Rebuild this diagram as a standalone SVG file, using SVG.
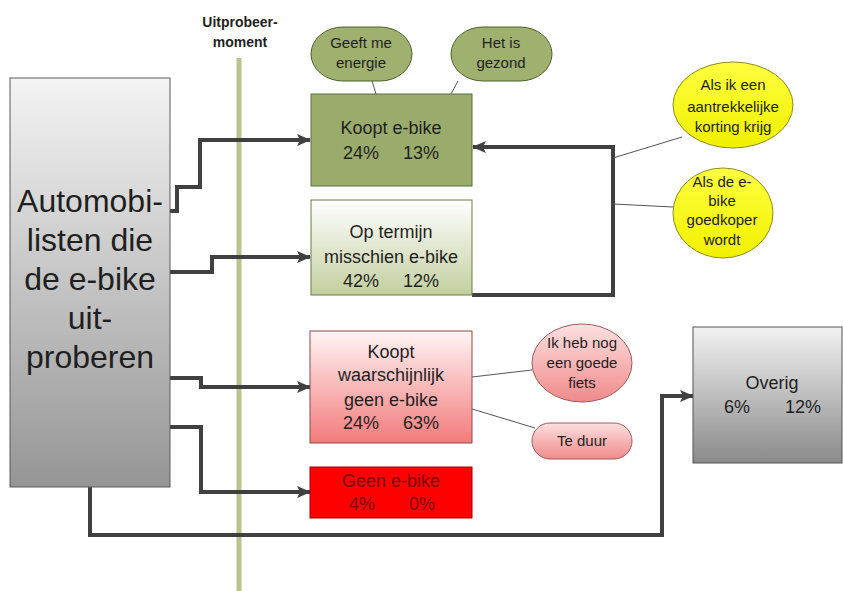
<svg xmlns="http://www.w3.org/2000/svg" width="843" height="591" viewBox="0 0 843 591">
<style>
text{font-family:"Liberation Sans",Arial,sans-serif;fill:#1f1f1f;text-anchor:middle}
.big{font-size:32px}
.box{font-size:18px}
.call{font-size:15px}
.conn{fill:none;stroke:#404040;stroke-width:4;marker-end:url(#arr)}
.lead{stroke:#555;stroke-width:1;fill:none}
.title{font-size:14px;font-weight:bold}
</style>
<defs>
<marker id="arr" viewBox="0 0 14 12" refX="13" refY="6" markerWidth="14" markerHeight="12" markerUnits="userSpaceOnUse" orient="auto">
<path d="M0,0 L14,6 L0,12 L3,6 Z" fill="#404040"/>
</marker>
<linearGradient id="gGrey" x1="0" y1="0" x2="0" y2="1"><stop offset="0" stop-color="#f4f4f4"/><stop offset="1" stop-color="#959595"/></linearGradient>
<linearGradient id="gOverig" x1="0" y1="0" x2="0" y2="1"><stop offset="0" stop-color="#f2f2f2"/><stop offset="1" stop-color="#8a8a8a"/></linearGradient>
<linearGradient id="gLightGreen" x1="0" y1="0" x2="0" y2="1"><stop offset="0" stop-color="#ffffff"/><stop offset="1" stop-color="#c3cf9f"/></linearGradient>
<linearGradient id="gPink" x1="0" y1="0" x2="0" y2="1"><stop offset="0" stop-color="#fff4f4"/><stop offset="1" stop-color="#f37b7b"/></linearGradient>
<linearGradient id="gPinkCall" x1="0" y1="0" x2="0" y2="1"><stop offset="0" stop-color="#fde0e0"/><stop offset="1" stop-color="#f08a8a"/></linearGradient>
<linearGradient id="gYellow" x1="0" y1="0" x2="0" y2="1"><stop offset="0" stop-color="#ffff40"/><stop offset="1" stop-color="#f0f000"/></linearGradient>
</defs>

<g id="timeline">
<line x1="239" y1="58" x2="239" y2="591" stroke="#b8c48e" stroke-width="5"/>
<text class="title" x="240" y="27">Uitprobeer-</text>
<text class="title" x="240" y="47">moment</text>
</g>

<g id="connectors">
<path class="conn" d="M170,211 H177 V187 H200 V140 H310"/>
<path class="conn" d="M170,272 H212 V257 H310"/>
<path class="conn" d="M170,378 H201 V387 H310"/>
<path class="conn" d="M170,427 H201 V492 H310"/>
<path class="conn" d="M90,487 V535 H662 V396 H693"/>
<path class="conn" d="M472,295 H613 V147 H473"/>
<line class="lead" x1="372" y1="81" x2="376" y2="94"/>
<line class="lead" x1="458" y1="81" x2="451" y2="94"/>
<line class="lead" x1="682" y1="137" x2="613" y2="158"/>
<line class="lead" x1="673" y1="207" x2="613" y2="204"/>
<line class="lead" x1="472" y1="377" x2="532" y2="370"/>
<line class="lead" x1="472" y1="409" x2="535" y2="428"/>
</g>

<g id="source">
<rect x="10" y="78" width="160" height="409" fill="url(#gGrey)" stroke="#5a5a5a" stroke-width="1"/>
<text class="big" x="90" y="212">Automobi-</text>
<text class="big" x="90" y="251">listen die</text>
<text class="big" x="90" y="290">de e-bike</text>
<text class="big" x="90" y="329">uit-</text>
<text class="big" x="90" y="368">proberen</text>
</g>

<g id="koopt">
<rect x="311" y="94" width="161" height="92" fill="#9bab6b" stroke="#5f6e3a" stroke-width="1"/>
<text class="box" x="391" y="134">Koopt e-bike</text>
<text class="box" x="361" y="159">24%</text>
<text class="box" x="421" y="159">13%</text>
</g>

<g id="optermijn">
<rect x="311" y="200" width="161" height="95" fill="url(#gLightGreen)" stroke="#6b7a45" stroke-width="1"/>
<text class="box" x="391" y="238">Op termijn</text>
<text class="box" x="391" y="263">misschien e-bike</text>
<text class="box" x="361" y="287">42%</text>
<text class="box" x="421" y="287">12%</text>
</g>

<g id="waarschijnlijk">
<rect x="310" y="331" width="162" height="112" fill="url(#gPink)" stroke="#8a4a4a" stroke-width="1"/>
<text class="box" x="391" y="358">Koopt</text>
<text class="box" x="391" y="381">waarschijnlijk</text>
<text class="box" x="391" y="406">geen e-bike</text>
<text class="box" x="361" y="429">24%</text>
<text class="box" x="421" y="429">63%</text>
</g>

<g id="geen">
<rect x="310" y="467" width="162" height="51" fill="#ff0000" stroke="#a00000" stroke-width="1"/>
<text class="box" x="391" y="487" style="fill:#7a0000">Geen e-bike</text>
<text class="box" x="362" y="510" style="fill:#7a0000">4%</text>
<text class="box" x="422" y="510" style="fill:#7a0000">0%</text>
</g>

<g id="overig">
<rect x="693" y="327" width="149" height="136" fill="url(#gOverig)" stroke="#555" stroke-width="1"/>
<text class="box" x="772" y="389">Overig</text>
<text class="box" x="737" y="413">6%</text>
<text class="box" x="803" y="413">12%</text>
</g>

<g id="energie">
<rect x="311" y="27" width="101" height="54" rx="32" ry="27" fill="#9fb06f" stroke="#4f5f2a" stroke-width="1"/>
<text class="call" x="361" y="48">Geeft me</text>
<text class="call" x="361" y="68">energie</text>
</g>

<g id="gezond">
<rect x="451" y="27" width="101" height="54" rx="32" ry="27" fill="#9fb06f" stroke="#4f5f2a" stroke-width="1"/>
<text class="call" x="501" y="48">Het is</text>
<text class="call" x="501" y="68">gezond</text>
</g>

<g id="korting">
<ellipse cx="733" cy="105" rx="60" ry="43" fill="url(#gYellow)" stroke="#8c8c20" stroke-width="1"/>
<text class="call" x="733" y="90">Als ik een</text>
<text class="call" x="733" y="112">aantrekkelijke</text>
<text class="call" x="733" y="132">korting krijg</text>
</g>

<g id="goedkoper">
<ellipse cx="723" cy="213" rx="50" ry="45" fill="url(#gYellow)" stroke="#8c8c20" stroke-width="1"/>
<text class="call" x="722" y="187">Als de e-</text>
<text class="call" x="722" y="206">bike</text>
<text class="call" x="722" y="225">goedkoper</text>
<text class="call" x="722" y="245">wordt</text>
</g>

<g id="fiets">
<ellipse cx="582" cy="363" rx="50" ry="39" fill="url(#gPinkCall)" stroke="#a05a5a" stroke-width="1"/>
<text class="call" x="582" y="348">Ik heb nog</text>
<text class="call" x="582" y="368">een goede</text>
<text class="call" x="582" y="388">fiets</text>
</g>

<g id="duur">
<rect x="532" y="423" width="100" height="36" rx="18" ry="18" fill="url(#gPinkCall)" stroke="#a05a5a" stroke-width="1"/>
<text class="call" x="582" y="446">Te duur</text>
</g>
</svg>
